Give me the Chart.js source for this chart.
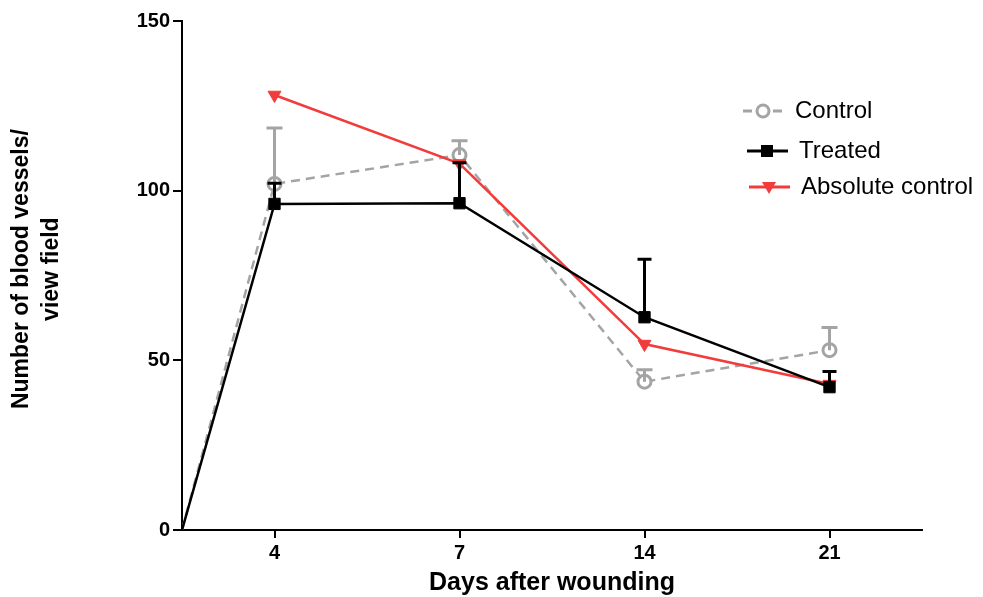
<!DOCTYPE html>
<html>
<head>
<meta charset="utf-8">
<script src="https://cdn.jsdelivr.net/npm/chart.js@4/dist/chart.umd.min.js"></script>
<style>
  html, body { margin: 0; padding: 0; background: #fff; }
  #wrap { width: 983px; height: 597px; }
</style>
</head>
<body>
<div id="wrap"><canvas id="vessels"></canvas></div>
<script>
// days after wounding (axis labels), series start at day 0 with 0 vessels
const dayLabels = ['4', '7', '14', '21'];
const startValue = 0;

const controlMean = [102, 110.5, 43.7, 53.0];
const controlErr = [16.5, 4.2, 3.5, 6.7];
const treatedMean = [96.1, 96.3, 62.7, 42.1];
const treatedErr = [6.1, 11.9, 17.1, 4.6];
const absoluteMean = [128.2, 108, 54.8, 43];

const yTicks = [0, 50, 100, 150];

const GREY = '#a4a4a4';
const RED = '#f23c3c';
const FONT = "'Liberation Sans', Arial, sans-serif";

function toPoints(means, withStart) {
  const pts = means.map((v, i) => ({ x: i + 1, y: v }));
  if (withStart) pts.unshift({ x: 0.5, y: startValue });
  return pts;
}
function radii(r, withStart) {
  const arr = dayLabels.map(() => r);
  if (withStart) arr.unshift(0);
  return arr;
}

// upper-only error bars, drawn right after their own dataset
const errorBars = {
  id: 'errorBars',
  afterDatasetDraw(chart, args) {
    const ds = chart.data.datasets[args.index];
    if (!ds.errors) return;
    const yScale = chart.scales.y;
    const ctx = chart.ctx;
    const meta = args.meta;
    const offset = ds.data.length - ds.errors.length;
    ctx.save();
    ctx.strokeStyle = ds.borderColor;
    ctx.lineWidth = 3;
    ctx.setLineDash([]);
    ds.errors.forEach((e, i) => {
      const el = meta.data[i + offset];
      const v = ds.data[i + offset].y;
      const top = yScale.getPixelForValue(v + e);
      ctx.beginPath();
      ctx.moveTo(el.x, el.y);
      ctx.lineTo(el.x, top);
      ctx.moveTo(el.x - ds.capHalf, top);
      ctx.lineTo(el.x + ds.capHalf, top);
      ctx.stroke();
    });
    ctx.restore();
  }
};

// legend drawn inside the plot, upper right
const sideLegend = {
  id: 'sideLegend',
  afterDraw(chart) {
    const ctx = chart.ctx;
    const rows = [
      { label: 'Control', color: GREY, dash: [9, 6], style: 'circle', x: 743, y: 111 },
      { label: 'Treated', color: '#000', dash: [], style: 'rect', x: 747, y: 151 },
      { label: 'Absolute control', color: RED, dash: [], style: 'triangle', x: 749, y: 187 }
    ];
    ctx.save();
    rows.forEach(r => {
      ctx.strokeStyle = r.color;
      ctx.fillStyle = r.color;
      ctx.lineWidth = 3;
      ctx.setLineDash(r.dash);
      ctx.beginPath();
      ctx.moveTo(r.x, r.y);
      ctx.lineTo(r.x + 41, r.y);
      ctx.stroke();
      ctx.setLineDash([]);
      const cx = r.x + 20;
      if (r.style === 'circle') {
        ctx.fillStyle = '#fff';
        ctx.beginPath();
        ctx.arc(cx, r.y, 6, 0, Math.PI * 2);
        ctx.fill();
        ctx.stroke();
      } else if (r.style === 'rect') {
        ctx.fillRect(cx - 6, r.y - 6, 12, 12);
      } else {
        ctx.beginPath();
        ctx.moveTo(cx - 7, r.y - 5);
        ctx.lineTo(cx + 7, r.y - 5);
        ctx.lineTo(cx, r.y + 7);
        ctx.closePath();
        ctx.fill();
      }
      ctx.fillStyle = '#000';
      ctx.font = '24px ' + FONT;
      ctx.textBaseline = 'middle';
      ctx.textAlign = 'left';
      ctx.fillText(r.label, r.x + 52, r.y);
    });
    ctx.restore();
  }
};

new Chart(document.getElementById('vessels'), {
  type: 'line',
  data: {
    datasets: [
      {
        label: 'Control',
        data: toPoints(controlMean, true),
        errors: controlErr,
        capHalf: 8,
        borderColor: GREY,
        borderWidth: 2.5,
        borderDash: [9, 6],
        pointStyle: 'circle',
        pointRadius: radii(6.5, true),
        pointBorderWidth: 3,
        pointBackgroundColor: '#fff',
        pointBorderColor: GREY,
        order: 3
      },
      {
        label: 'Treated',
        data: toPoints(treatedMean, true),
        errors: treatedErr,
        capHalf: 7,
        borderColor: '#000',
        borderWidth: 2.5,
        pointStyle: 'rect',
        pointRadius: radii(8, true),
        pointBorderWidth: 1,
        pointBackgroundColor: '#000',
        pointBorderColor: '#000',
        order: 1
      },
      {
        label: 'Absolute control',
        data: toPoints(absoluteMean, false),
        borderColor: RED,
        borderWidth: 2.5,
        pointStyle: 'triangle',
        pointRotation: 180,
        pointRadius: radii(7.5, false),
        pointBorderWidth: 1,
        pointBackgroundColor: RED,
        pointBorderColor: RED,
        order: 2
      }
    ]
  },
  options: {
    responsive: true,
    maintainAspectRatio: false,
    animation: false,
    layout: { padding: { top: 21, right: 61, left: 0, bottom: 0 } },
    plugins: {
      legend: { display: false },
      tooltip: { enabled: false }
    },
    scales: {
      x: {
        type: 'linear',
        min: 0.5,
        max: dayLabels.length + 0.5,
        afterBuildTicks(scale) {
          scale.ticks = dayLabels.map((d, i) => ({ value: i + 1 }));
        },
        afterFit(scale) { scale.height = 67; },
        ticks: {
          color: '#000',
          font: { family: FONT, size: 20, weight: 'bold' },
          padding: 3,
          maxRotation: 0,
          callback: (v) => dayLabels[v - 1]
        },
        grid: { display: true, drawOnChartArea: false, drawTicks: true, tickLength: 8, color: '#000', lineWidth: 2 },
        border: { display: true, color: '#000', width: 2 },
        title: {
          display: true,
          text: 'Days after wounding',
          color: '#000',
          font: { family: FONT, size: 25, weight: 'bold', lineHeight: 1.05 },
          padding: { top: 0, bottom: 1 }
        }
      },
      y: {
        min: 0,
        max: 150,
        afterBuildTicks(scale) {
          scale.ticks = yTicks.map(v => ({ value: v }));
        },
        afterFit(scale) { scale.width = 182; },
        ticks: {
          color: '#000',
          font: { family: FONT, size: 20, weight: 'bold' },
          padding: 3
        },
        grid: { display: true, drawOnChartArea: false, drawTicks: true, tickLength: 9, color: '#000', lineWidth: 2 },
        border: { display: true, color: '#000', width: 2 },
        title: {
          display: true,
          text: ['  Number of blood vessels/', '  view field'],
          color: '#000',
          font: { family: FONT, size: 23, weight: 'bold', lineHeight: 1.3 },
          padding: { top: 7, bottom: 0 }
        }
      }
    }
  },
  plugins: [errorBars, sideLegend]
});
</script>
</body>
</html>
